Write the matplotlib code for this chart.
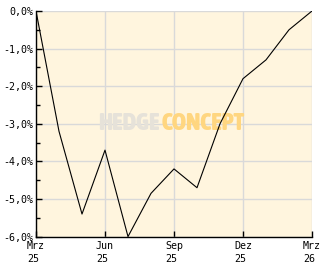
import matplotlib
matplotlib.use("Agg")
import matplotlib.pyplot as plt
from matplotlib import font_manager
from matplotlib.ticker import MultipleLocator, FuncFormatter

months = ["Mrz\n25", "Apr\n25", "Mai\n25", "Jun\n25", "Jul\n25", "Aug\n25", "Sep\n25",
          "Okt\n25", "Nov\n25", "Dez\n25", "Jan\n26", "Feb\n26", "Mrz\n26"]
values = [0.0, -3.2, -5.4, -3.7, -6.0, -4.85, -4.2, -4.7, -3.0, -1.8, -1.3, -0.5, 0.0]
tick_idx = [0, 3, 6, 9, 12]
y_ticks = [0, -1, -2, -3, -4, -5, -6]

# pick a condensed bold font for the watermark if one is installed
wm_font = None
for f in font_manager.fontManager.ttflist:
    n = f.name
    if ("Narrow" in n or "Condensed" in n) and f.weight in ("bold", 700, "heavy", 800, 900):
        wm_font = f.fname
        break
if wm_font is None:
    for f in font_manager.fontManager.ttflist:
        if "Narrow" in f.name or "Condensed" in f.name or f.stretch == "condensed":
            wm_font = f.fname
            break
wm_props = (font_manager.FontProperties(fname=wm_font, size=17.5, weight="bold")
            if wm_font else font_manager.FontProperties(family="DejaVu Sans", size=12, weight="bold"))

W, H = 332, 269
fig = plt.figure(figsize=(W / 100, H / 100), dpi=100, facecolor="white")
ax = fig.add_axes([36 / W, (H - 236.6) / H, 276 / W, 225.6 / H])
ax.set_facecolor("#FFF5DE")

x = list(range(len(values)))
ax.set_xlim(0, 12)
ax.set_ylim(-6, 0)

ax.grid(True, color="#D9D9D9", linewidth=1.0)
ax.set_axisbelow(True)

# watermark
ax.text(0.4457, 0.501, "HEDGE", transform=ax.transAxes, ha="right", va="center",
        fontproperties=wm_props, color="#E6E2D9", zorder=1)
ax.text(0.4565, 0.501, "CONCEPT", transform=ax.transAxes, ha="left", va="center",
        fontproperties=wm_props, color="#FFD680", zorder=1)

ax.plot(x, values, color="black", linewidth=0.8, zorder=3)

ax.set_xticks(tick_idx)
ax.set_xticklabels([months[i] for i in tick_idx], multialignment="left",
                   family="DejaVu Sans Mono", fontsize=7.2, linespacing=1.45)
ax.set_yticks(y_ticks)
ax.yaxis.set_major_formatter(FuncFormatter(lambda v, p: f"{v:.1f}%".replace(".", ",")))
ax.yaxis.set_minor_locator(MultipleLocator(0.5))
for lab in ax.get_yticklabels():
    lab.set_family("DejaVu Sans Mono")
    lab.set_fontsize(7.2)

ax.tick_params(axis="x", direction="in", length=4, width=1, pad=3, color="black")
ax.tick_params(axis="y", which="major", direction="in", length=4, width=1, pad=2, color="black")
ax.tick_params(axis="y", which="minor", direction="in", length=3, width=1, color="black")

for s in ["top", "right"]:
    ax.spines[s].set_visible(False)
for s in ["left", "bottom"]:
    ax.spines[s].set_color("black")
    ax.spines[s].set_linewidth(1.0)

fig.savefig("out.png", dpi=100, facecolor="white")
